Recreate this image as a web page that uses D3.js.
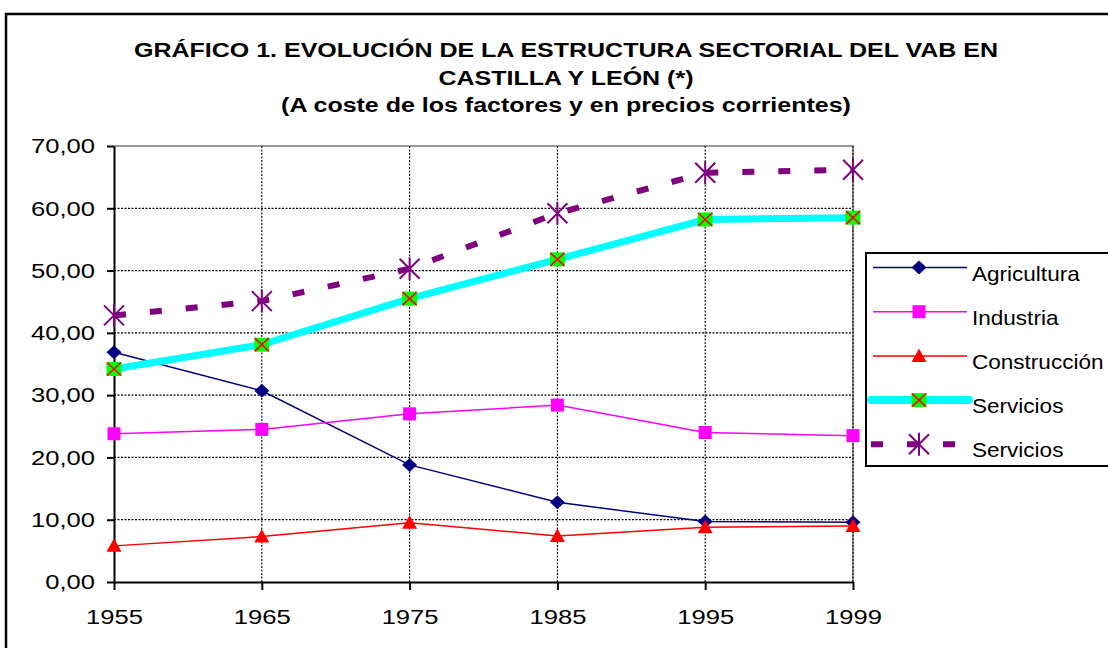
<!DOCTYPE html>
<html>
<head>
<meta charset="utf-8">
<script src="https://cdn.jsdelivr.net/npm/d3@7"></script>
<style>
  body { margin: 0; background: #fff; }
  svg { display: block; font-family: "Liberation Sans", Arial, sans-serif; }
</style>
</head>
<body>
<svg id="chart" width="1108" height="648"></svg>
<script>
// datos
const years = ["1955", "1965", "1975", "1985", "1995", "1999"];
const agricultura = [36.9, 30.7, 18.8, 12.8, 9.7, 9.6];
const industria = [23.8, 24.5, 27.0, 28.4, 24.0, 23.5];
const construccion = [5.8, 7.3, 9.5, 7.4, 8.8, 9.0];
const servicios = [34.2, 38.1, 45.5, 51.8, 58.2, 58.5];
const serviciosB = [42.8, 45.1, 50.3, 59.2, 65.7, 66.2];
const yTicks = [0, 10, 20, 30, 40, 50, 60, 70];
const titleLines = [
  "GRÁFICO 1. EVOLUCIÓN DE LA ESTRUCTURA SECTORIAL DEL VAB EN",
  "CASTILLA Y LEÓN (*)",
  "(A coste de los factores y en precios corrientes)"
];

const series = [
  { name: "Agricultura", values: agricultura, color: "#000080", width: 1.5, marker: "diamond" },
  { name: "Industria", values: industria, color: "#ff00ff", width: 1.5, marker: "square" },
  { name: "Construcción", values: construccion, color: "#ff0000", width: 1.5, marker: "triangle" },
  { name: "Servicios", values: servicios, color: "#00ffff", width: 7, marker: "boxx" },
  { name: "Servicios", values: serviciosB, color: "#800080", width: 6, marker: "star", dash: "12,24" }
];

const locale = d3.formatLocale({ decimal: ",", thousands: ".", grouping: [3], currency: ["", "€"] });
const fmt = locale.format(".2f");

const svg = d3.select("#chart");

// marco exterior
svg.append("rect")
  .attr("x", 6).attr("y", 14).attr("width", 1200).attr("height", 700)
  .attr("fill", "none").attr("stroke", "#000").attr("stroke-width", 2.5);

// titulo (texto estirado en horizontal como en el original)
const titleY = [57, 85, 112];
titleLines.forEach((t, i) => {
  svg.append("text")
    .attr("transform", `translate(566,${titleY[i]}) scale(1.25,1)`)
    .attr("text-anchor", "middle")
    .attr("font-size", 20).attr("font-weight", "bold")
    .text(t);
});

const plotL = 114, plotR = 853, plotT = 146, plotB = 582;
const x = d3.scalePoint().domain(years).range([plotL, plotR]);
const y = d3.scaleLinear().domain([0, 70]).range([plotB, plotT]);

// rejilla
const grid = svg.append("g");
grid.selectAll(".hg").data(yTicks.slice(1, -1)).join("line")
  .attr("x1", plotL).attr("x2", plotR)
  .attr("y1", d => y(d)).attr("y2", d => y(d))
  .attr("stroke", "#000").attr("stroke-width", 1.3).attr("stroke-dasharray", "2,1.5");
// borde gris del area de trazado
grid.append("path")
  .attr("d", `M${plotL},${plotT}H${plotR}V${plotB}`)
  .attr("fill", "none").attr("stroke", "#999").attr("stroke-width", 2);
grid.selectAll(".vg").data(years.slice(1)).join("line")
  .attr("x1", d => x(d)).attr("x2", d => x(d))
  .attr("y1", plotT).attr("y2", plotB)
  .attr("stroke", "#000").attr("stroke-width", 1.1).attr("stroke-dasharray", "2,1.5");

// ejes
const yAxis = svg.append("g").attr("transform", `translate(${plotL},0)`)
  .call(d3.axisLeft(y).tickValues(yTicks).tickFormat(fmt).tickSize(7).tickPadding(8.5).tickSizeOuter(0));
const xAxis = svg.append("g").attr("transform", `translate(0,${plotB})`)
  .call(d3.axisBottom(x).tickSize(8).tickPadding(19).tickSizeOuter(0));
[yAxis, xAxis].forEach(ax => {
  ax.select(".domain").attr("stroke", "#000").attr("stroke-width", 2);
  ax.selectAll(".tick line").attr("stroke", "#000").attr("stroke-width", 2);
  ax.selectAll(".tick text")
    .attr("font-size", 21).attr("fill", "#000")
    .attr("font-family", "'Liberation Sans', Arial, sans-serif")
    .attr("transform", "scale(1.22,1)");
});

function drawMarker(g, type, cx, cy, color) {
  if (type === "diamond") {
    g.append("path").attr("d", `M${cx},${cy - 7}L${cx + 7.5},${cy}L${cx},${cy + 7}L${cx - 7.5},${cy}Z`)
      .attr("fill", color);
  } else if (type === "square") {
    g.append("rect").attr("x", cx - 6.5).attr("y", cy - 6.5).attr("width", 13).attr("height", 13)
      .attr("fill", color);
  } else if (type === "triangle") {
    g.append("path").attr("d", `M${cx},${cy - 7.5}L${cx + 7.5},${cy + 6}L${cx - 7.5},${cy + 6}Z`)
      .attr("fill", color);
  } else if (type === "boxx") {
    g.append("rect").attr("x", cx - 7.5).attr("y", cy - 7).attr("width", 15).attr("height", 14)
      .attr("fill", "#00ff00");
    g.append("path").attr("d", `M${cx - 7},${cy - 6.5}L${cx + 7},${cy + 6.5}M${cx + 7},${cy - 6.5}L${cx - 7},${cy + 6.5}`)
      .attr("stroke", "#ff0000").attr("stroke-width", 1.6);
  } else if (type === "star") {
    g.append("path").attr("d", `M${cx - 10},${cy - 10}L${cx + 10},${cy + 10}M${cx + 10},${cy - 10}L${cx - 10},${cy + 10}M${cx},${cy - 11.5}V${cy + 11.5}`)
      .attr("stroke", color).attr("stroke-width", 2);
  }
}

// series
const line = d3.line().x((d, i) => x(years[i])).y(d => y(d));
series.forEach(s => {
  const g = svg.append("g");
  g.append("path").datum(s.values)
    .attr("d", line)
    .attr("fill", "none").attr("stroke", s.color).attr("stroke-width", s.width)
    .attr("stroke-dasharray", s.dash || null);
  s.values.forEach((v, i) => drawMarker(g, s.marker, x(years[i]), y(v), s.color));
});

// leyenda
const lg = svg.append("g").attr("transform", "translate(866,253)");
lg.append("rect").attr("width", 300).attr("height", 213)
  .attr("fill", "#fff").attr("stroke", "#000").attr("stroke-width", 2);
series.forEach((s, i) => {
  const ly = 14.5 + i * 44.2;
  const big = s.width > 3;
  lg.append("line")
    .attr("x1", big ? 5 : 7).attr("x2", big ? 103 : 101)
    .attr("y1", ly).attr("y2", ly)
    .attr("stroke", s.color).attr("stroke-width", s.marker === "boxx" ? 8 : s.width)
    .attr("stroke-linecap", s.marker === "boxx" ? "round" : "butt")
    .attr("stroke-dasharray", s.dash || null);
  drawMarker(lg, s.marker, 53, ly, s.color);
  lg.append("text")
    .attr("transform", `translate(106,${ly + 13}) scale(1.1,1)`)
    .attr("font-size", 20.5)
    .text(s.name);
});
</script>
</body>
</html>
